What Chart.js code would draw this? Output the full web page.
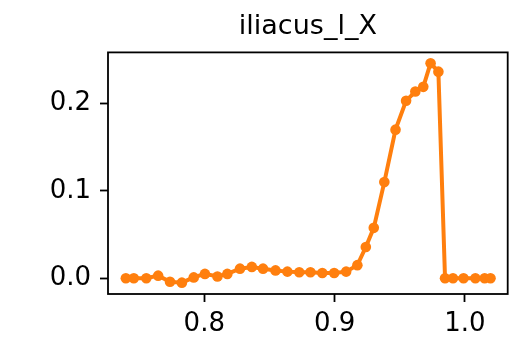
<!DOCTYPE html>
<html>
<head>
<meta charset="utf-8">
<script src="https://cdn.jsdelivr.net/npm/chart.js@4/dist/chart.umd.min.js"></script>
<style>
html,body{margin:0;padding:0;background:#fff;}
#wrap{width:513px;height:337px;}
</style>
</head>
<body>
<div id="wrap"><canvas id="c" width="513" height="337"></canvas></div>
<script>
const TITLE = "iliacus_l_X";
const XS = [0.7398,0.7459,0.7555,0.7646,0.7737,0.7828,0.7919,0.8005,0.8101,0.8177,
            0.8274,0.8365,0.8451,0.8547,0.8638,0.8729,0.8815,0.8906,0.8997,0.9089,
            0.9175,0.9240,0.9301,0.9382,0.9468,0.9549,0.9620,0.9681,0.9737,0.9797,
            0.9848,0.9909,0.9990,1.0081,1.0152,1.0197];
const YS = [0.000,0.000,0.000,0.003,-0.004,-0.005,0.001,0.005,0.002,0.005,
            0.011,0.013,0.011,0.009,0.0076,0.0068,0.0068,0.006,0.006,0.0076,
            0.015,0.0357,0.0577,0.110,0.170,0.203,0.2136,0.219,0.246,0.2364,
            0.000,0.000,0.000,0.000,0.000,0.000];
const X_TICKS = [0.8, 0.9, 1.0];
const Y_TICKS = [0.0, 0.1, 0.2];
const X_RANGE = [0.7261, 1.0329];
const Y_RANGE = [-0.018, 0.2584];

const points = XS.map((x, i) => ({x: x, y: YS[i]}));

const boxPlugin = {
  id: 'box',
  afterLayout(chart) {
    const a = chart.chartArea;
    if (chart.titleBlock) {
      chart.titleBlock.left = a.left;
      chart.titleBlock.right = a.right;
      chart.titleBlock.width = a.right - a.left;
    }
  },
  afterDatasetsDraw(chart) {
    const a = chart.chartArea, ctx = chart.ctx;
    ctx.save();
    ctx.strokeStyle = '#000';
    ctx.lineWidth = 1.8;
    ctx.strokeRect(a.left, a.top, a.right - a.left, a.bottom - a.top);
    ctx.restore();
  }
};

const FONT = "'DejaVu Sans', sans-serif";

new Chart(document.getElementById('c'), {
  type: 'line',
  data: {
    datasets: [{
      data: points,
      borderColor: '#ff7f0e',
      backgroundColor: '#ff7f0e',
      borderWidth: 4,
      pointRadius: 5.3,
      pointBorderWidth: 0,
      pointBackgroundColor: '#ff7f0e',
      tension: 0,
      fill: false
    }]
  },
  options: {
    responsive: false,
    devicePixelRatio: 1,
    animation: false,
    events: [],
    layout: {padding: {left: 0, right: 2, top: 0, bottom: 0}},
    plugins: {
      legend: {display: false},
      tooltip: {enabled: false},
      title: {
        display: true,
        text: TITLE,
        color: '#000',
        font: {family: FONT, size: 27, weight: 'normal', lineHeight: 1.2},
        padding: {top: 11, bottom: 9}
      }
    },
    scales: {
      x: {
        type: 'linear',
        min: X_RANGE[0], max: X_RANGE[1],
        afterBuildTicks(s) { s.ticks = X_TICKS.map(v => ({value: v})); },
        afterFit(s) { s.height = 337 - 294; s.paddingLeft = 0; s.paddingRight = 0; },
        border: {display: false},
        grid: {display: true, drawOnChartArea: false, drawTicks: true, tickLength: 8, tickWidth: 1.8, tickColor: '#000', color: '#000'},
        ticks: {color: '#000', padding: 7, maxRotation: 0, font: {family: FONT, size: 26},
                callback: v => v.toFixed(1)}
      },
      y: {
        type: 'linear',
        min: Y_RANGE[0], max: Y_RANGE[1],
        afterBuildTicks(s) { s.ticks = Y_TICKS.map(v => ({value: v})); },
        afterFit(s) { s.width = 108; s.paddingTop = 0; s.paddingBottom = 0; },
        border: {display: false},
        grid: {display: true, drawOnChartArea: false, drawTicks: true, tickLength: 8, tickWidth: 1.8, tickColor: '#000', color: '#000'},
        ticks: {color: '#000', padding: 9, font: {family: FONT, size: 26},
                callback: v => v.toFixed(1)}
      }
    }
  },
  plugins: [boxPlugin]
});
</script>
</body>
</html>
